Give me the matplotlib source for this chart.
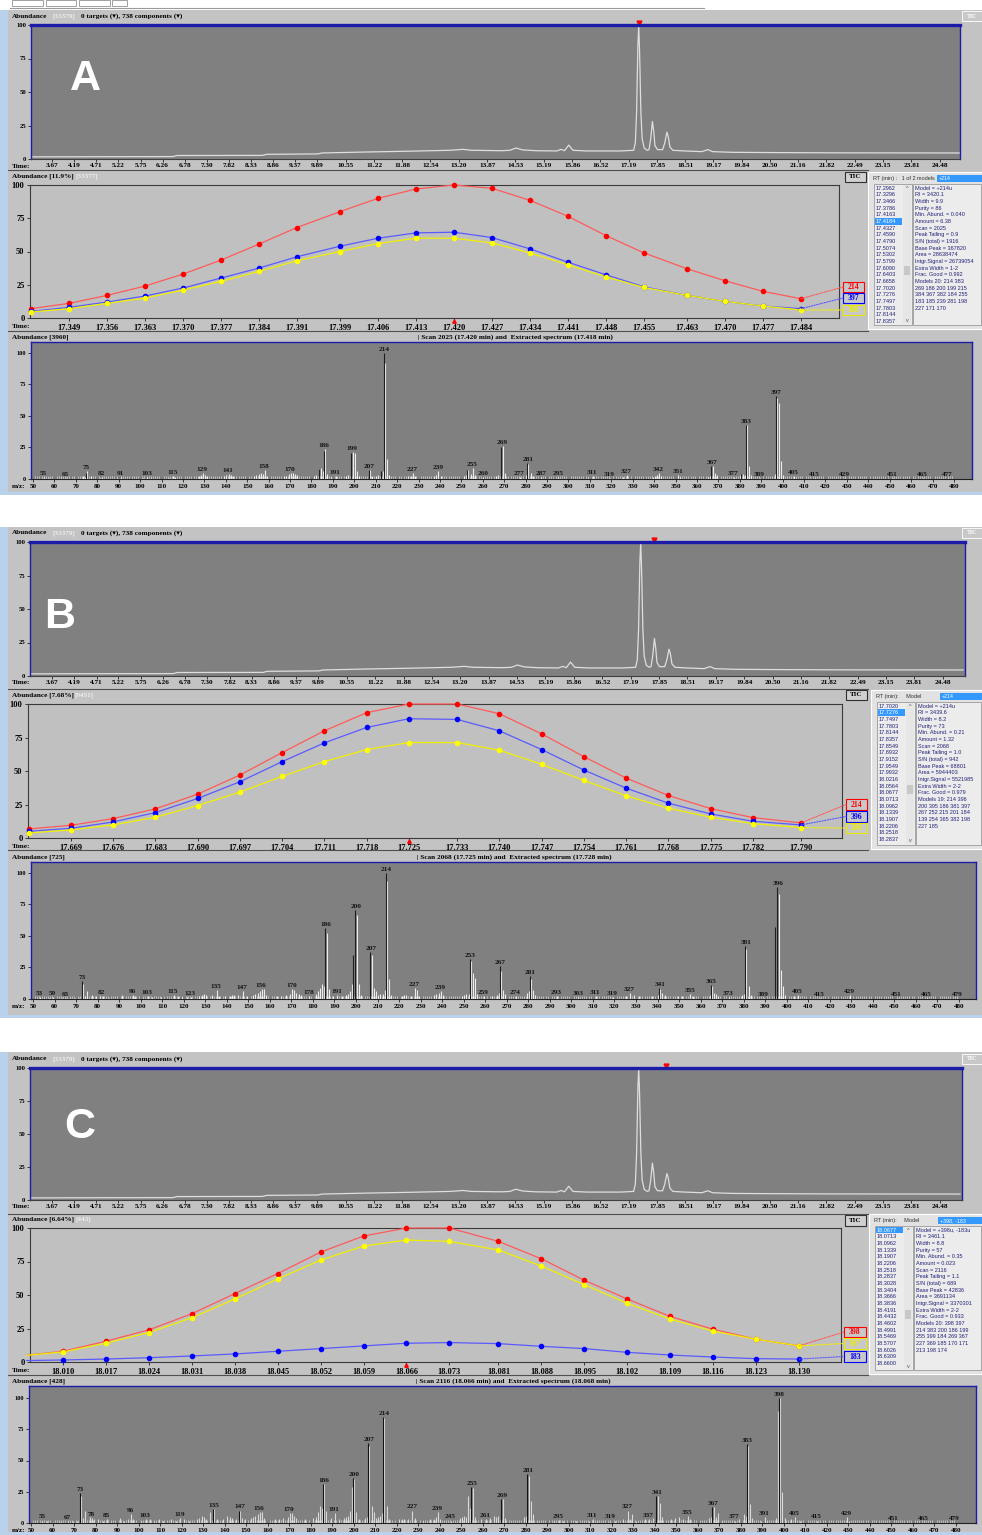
import numpy as np
import matplotlib.pyplot as plt
from matplotlib.patches import Rectangle, ConnectionPatch

W, H = 982, 1535
SERIF = ["Liberation Serif", "DejaVu Serif"]
SANS = ["Liberation Sans", "DejaVu Sans"]

# ---------------- data ----------------
# total ion chromatogram (same run in the three screenshots)
TIC_TICKS = [3.67, 4.19, 4.71, 5.22, 5.75, 6.26, 6.78, 7.30, 7.82, 8.33, 8.86, 9.37, 9.89,
             10.55, 11.22, 11.88, 12.54, 13.20, 13.87, 14.53, 15.19, 15.86, 16.52, 17.19,
             17.85, 18.51, 19.17, 19.84, 20.50, 21.16, 21.82, 22.49, 23.15, 23.81, 24.48]
TIC_TIME = [3.18, 4.5, 6.5, 6.6, 8.6, 8.7, 9.9, 10.0, 11.0, 12.0,
            13.0, 13.3, 13.5, 14.2, 14.4, 14.54, 14.7, 15.0, 15.5, 15.6,
            15.68, 15.78, 15.88, 16.2, 17.0, 17.30, 17.34, 17.37, 17.40, 17.42,
            17.44, 17.47, 17.50, 17.55, 17.62, 17.66, 17.70, 17.74, 17.77, 17.80,
            17.86, 17.98, 18.03, 18.08, 18.11, 18.15, 18.22, 18.5, 18.9, 19.04,
            19.15, 19.6, 20.5, 22.0, 24.95]
TIC_ABUND = [1.6, 1.7, 1.8, 2.6, 2.7, 3.5, 3.8, 4.5, 5.2, 5.8,
             6.5, 7.2, 6.5, 6.2, 6.5, 8.2, 6.8, 6.2, 6.0, 7.2,
             6.2, 10.4, 6.5, 6.0, 6.0, 6.5, 12, 35, 85, 100,
             80, 35, 15, 8, 6.5, 7, 15, 28, 21, 10,
             7, 7, 12, 20, 17, 9, 6.5, 6.0, 5.5, 7.0,
             5.5, 5.0, 4.8, 4.6, 4.5]

# panel A : extracted ion chromatograms
A_EIC_TIME = [17.342, 17.349, 17.356, 17.363, 17.370, 17.377, 17.384, 17.391, 17.399, 17.406,
              17.413, 17.420, 17.427, 17.434, 17.441, 17.448, 17.455, 17.463, 17.470, 17.477,
              17.484]
A_ION_NAMES = ["214", "397", "398"]
A_ION_214 = [7, 11, 17, 24, 33, 43.5, 55.5, 68, 80, 90, 97, 100, 97.5, 88.5, 76.5, 62, 49, 37, 28, 20, 14.5]
A_ION_397 = [5, 8, 12, 16.5, 22.5, 30, 37.5, 46, 54, 60, 64, 64.5, 60.5, 52, 42, 32.5, 23.5, 17, 12.5, 9, 7]
A_ION_398 = [4.5, 7, 11, 15, 21, 27.5, 35, 43, 50, 56, 60, 60, 56.5, 49, 40, 31, 23, 17, 12.5, 9, 6]

# panel B
B_EIC_TIME = [17.662, 17.669, 17.676, 17.683, 17.690, 17.697, 17.704, 17.711, 17.718, 17.725,
              17.733, 17.740, 17.747, 17.754, 17.761, 17.768, 17.775, 17.782, 17.790]
B_ION_NAMES = ["214", "396", "200"]
B_ION_214 = [6.75, 9.5, 14.5, 21.75, 32.75, 47, 63.75, 80, 93.5, 100, 100, 92.75, 77.75, 60.75, 44.75, 31.75, 22, 15.25, 11.25]
B_ION_396 = [5, 7.25, 12, 19, 29.5, 42, 57, 71, 82.5, 89, 88.5, 80, 66, 50.75, 37.25, 26, 18, 12.5, 9.75]
B_ION_200 = [3.75, 6, 9.75, 15.5, 24.25, 34.25, 46, 57, 66, 71.25, 71.25, 65.5, 55, 43, 31.5, 22.25, 15.5, 10.75, 7.75]

# panel C
C_EIC_TIME = [18.003, 18.010, 18.017, 18.024, 18.031, 18.038, 18.045, 18.052, 18.059, 18.066,
              18.073, 18.081, 18.088, 18.095, 18.102, 18.109, 18.116, 18.123, 18.130]
C_ION_NAMES = ["398", "397", "183"]
C_ION_398 = [4.5, 8, 15.5, 24, 36, 51, 66, 82, 94, 100, 100, 90, 77, 61, 47, 34, 24.4, 17, 12]
C_ION_397 = [4.5, 7.5, 14, 22, 33, 47, 62, 76, 86.5, 91, 90, 83.6, 71.6, 57.7, 43.8, 32, 23, 17, 12]
C_ION_183 = [1, 1.5, 2.2, 3.2, 4.5, 6, 8, 10, 12, 14, 14.5, 13.7, 11.7, 10, 7.2, 5.2, 3.7, 2.5, 2.2]

# mass spectra: extracted (light bars) and raw scan (dark bars)
A_MZ = [55, 57, 63, 65, 69, 73, 74, 75, 77, 81,
        82, 89, 91, 101, 103, 105, 113, 115, 116, 127,
        128, 129, 130, 131, 139, 140, 141, 142, 143, 153,
        154, 155, 156, 157, 158, 159, 167, 168, 169, 170,
        171, 172, 173, 181, 182, 183, 184, 185, 186, 187,
        189, 191, 196, 197, 198, 199, 200, 201, 202, 207,
        208, 210, 211, 212, 213, 214, 215, 216, 225, 226,
        227, 228, 237, 238, 239, 240, 251, 252, 253, 254,
        255, 256, 260, 266, 267, 268, 269, 270, 277, 280,
        281, 282, 283, 287, 295, 309, 311, 319, 325, 327,
        339, 340, 341, 342, 343, 351, 352, 365, 366, 367,
        368, 369, 377, 380, 381, 382, 383, 384, 385, 389,
        396, 397, 398, 399, 400, 405, 415, 429, 451, 465,
        477]
A_INT = [1.5, 1, 1, 1, 1, 2, 1.5, 6, 2, 1,
         1.5, 1, 1.5, 1, 1.5, 1, 1, 2, 1.5, 2,
         3, 4.5, 3, 2, 2, 3, 4, 3, 2, 2,
         3, 4, 4.5, 4, 7, 2.5, 2, 2.5, 4, 5,
         5, 4, 3, 2, 3, 8, 8.5, 6, 24, 4,
         1.5, 2, 2.5, 3, 6, 21.5, 21, 6, 2, 7,
         2, 2, 3, 3, 6, 92, 16, 3, 2, 2,
         5, 2, 2, 3, 6, 2, 2, 3, 7, 4,
         8.5, 3, 1.5, 2, 3, 4, 26.5, 5, 1.5, 3,
         12, 5, 2, 1.5, 1.5, 1, 2, 1, 1.5, 3.5,
         1.5, 2.5, 3, 4.5, 2, 3.5, 1.5, 1.5, 2, 10.5,
         5, 3, 1.5, 3, 4, 3, 42.5, 10, 3, 1,
         4, 64, 60, 14, 3, 2, 1, 1, 0.8, 0.8,
         0.8]
A_RAW_MZ = [75, 184, 186, 199, 207, 213, 214, 253, 269, 281, 367, 381, 383, 397]
A_RAW_INT = [5, 8, 22, 21, 7, 6, 100, 7, 25, 13, 10, 4, 43, 66]
A_LABELS = [55, 65, 75, 82, 91, 103, 115, 129, 141, 158, 170, 186, 191, 199, 207, 214, 227, 239,
            255, 260, 269, 277, 281, 287, 295, 311, 319, 327, 342, 351, 367, 377, 383, 389, 397,
            405, 415, 429, 451, 465, 477]

B_MZ = [53, 55, 57, 59, 63, 65, 67, 69, 71, 73,
        74, 75, 77, 79, 81, 82, 85, 91, 96, 97,
        101, 103, 105, 109, 115, 117, 119, 121, 123, 127,
        128, 129, 130, 133, 135, 136, 139, 141, 142, 143,
        145, 147, 149, 152, 153, 154, 155, 156, 157, 158,
        163, 165, 167, 169, 170, 171, 172, 173, 174, 178,
        181, 182, 183, 184, 185, 186, 187, 189, 191, 193,
        195, 196, 197, 198, 199, 200, 201, 202, 207, 208,
        209, 210, 211, 212, 213, 214, 215, 216, 221, 222,
        223, 225, 227, 228, 229, 236, 237, 238, 239, 240,
        249, 250, 251, 252, 253, 254, 255, 256, 259, 263,
        265, 266, 267, 268, 269, 274, 279, 280, 281, 282,
        283, 293, 303, 311, 319, 325, 327, 329, 331, 337,
        340, 341, 342, 343, 349, 351, 355, 356, 364, 365,
        366, 367, 368, 373, 379, 380, 381, 382, 383, 389,
        395, 396, 397, 398, 399, 403, 405, 415, 429, 451,
        465, 479]
B_INT = [1.5, 1, 1, 1.5, 1, 1, 1, 1, 1, 12,
         2, 6, 3, 2, 2, 2, 1, 3, 3, 2,
         1, 2, 1.5, 1.5, 3, 2, 1.5, 1.5, 1.5, 2,
         3, 4, 3, 3, 7, 2, 2, 2, 3, 3,
         3, 6, 2, 3, 4, 5, 6, 8, 8, 3,
         2, 2, 3, 4, 8, 7, 5, 4, 3, 2,
         4, 6, 9, 12, 10, 52, 8, 2, 3, 2,
         3, 4, 6, 12, 33, 67, 12, 3, 35, 9,
         6, 3, 4, 4, 7, 94, 16, 3, 2, 3,
         3, 2, 9, 7, 2, 3, 4, 5, 6, 3,
         2, 3, 4, 4, 30, 21, 17, 4, 2, 2,
         3, 5, 22, 7, 4, 2, 5, 6, 16, 7,
         3, 2, 1.5, 2, 1.5, 2, 5, 3, 2, 2,
         3, 8, 5, 3, 2, 2, 4, 2, 3, 10,
         5, 4, 2, 1.5, 3, 4, 40, 10, 3, 1,
         56, 83, 23, 10, 3, 2, 3, 1, 3, 0.8,
         0.8, 1]
B_RAW_MZ = [73, 186, 199, 200, 207, 214, 253, 267, 281, 341, 365, 381, 395, 396]
B_RAW_INT = [14, 56, 35, 71, 37, 100, 32, 26.5, 18, 9, 11, 42, 57.5, 88.6]
B_LABELS = [53, 59, 65, 73, 82, 96, 103, 115, 123, 135, 147, 156, 170, 178, 186, 191, 200, 207,
            214, 227, 239, 253, 259, 267, 274, 281, 293, 303, 311, 319, 327, 341, 355, 365, 373,
            381, 389, 396, 405, 415, 429, 451, 465, 479]

C_MZ = [55, 57, 60, 63, 67, 69, 71, 73, 74, 75,
        77, 78, 79, 81, 83, 85, 87, 91, 93, 95,
        96, 97, 101, 103, 105, 107, 109, 111, 115, 117,
        119, 121, 123, 127, 128, 129, 130, 131, 133, 135,
        136, 139, 141, 142, 143, 145, 147, 148, 149, 152,
        153, 154, 155, 156, 157, 158, 163, 165, 167, 169,
        170, 171, 172, 173, 177, 181, 182, 183, 184, 185,
        186, 187, 189, 191, 193, 195, 196, 197, 198, 199,
        200, 201, 202, 205, 206, 207, 208, 209, 210, 211,
        212, 213, 214, 215, 216, 221, 222, 223, 225, 227,
        228, 232, 235, 237, 238, 239, 240, 245, 249, 250,
        251, 252, 253, 254, 255, 256, 259, 261, 263, 265,
        266, 267, 268, 269, 270, 279, 280, 281, 282, 283,
        285, 293, 295, 297, 303, 309, 311, 313, 319, 321,
        325, 327, 328, 329, 331, 335, 337, 339, 341, 342,
        343, 347, 349, 351, 353, 355, 356, 365, 366, 367,
        368, 369, 371, 377, 379, 381, 382, 383, 384, 385,
        389, 391, 392, 396, 397, 398, 399, 400, 403, 405,
        407, 415, 429, 430, 451, 465, 479]
C_INT = [2, 1.5, 1, 1, 1.5, 2, 2, 22, 4, 10,
         5, 4, 3, 3, 2, 3, 1, 4, 2, 3,
         7, 3, 2, 3, 3, 2, 3, 2, 3, 2,
         4, 3, 2, 3, 4, 6, 5, 3, 9, 11,
         3, 3, 6, 5, 4, 3, 10, 4, 3, 4,
         5, 6, 7, 9, 9, 4, 3, 3, 4, 5,
         8, 8, 6, 4, 3, 4, 5, 9, 14, 12,
         31, 10, 4, 8, 3, 4, 5, 6, 10, 29,
         35, 9, 3, 4, 5, 62, 14, 9, 4, 5,
         6, 8, 84, 14, 3, 3, 3, 3, 3, 10,
         4, 2, 3, 3, 5, 9, 3, 2, 4, 5,
         6, 5, 22, 12, 28, 5, 3, 3, 4, 6,
         5, 6, 4, 19, 4, 5, 6, 38, 18, 7,
         2, 2, 2.5, 2, 2, 2, 3, 2, 2, 2,
         3, 10, 3, 7, 2, 3, 3, 4, 22, 16,
         5, 3, 4, 5, 3, 6, 3, 4, 5, 12.5,
         5, 8, 2, 2, 3, 7, 6, 62, 15, 4,
         2, 5, 2, 4, 90, 100, 25, 4, 3, 5,
         2, 2, 5, 2, 1, 1, 1]
C_RAW_MZ = [73, 135, 147, 186, 200, 207, 214, 255, 269, 281, 341, 367, 383, 398]
C_RAW_INT = [24, 11, 10, 31.5, 36, 64, 85, 29, 19, 39, 22, 12.5, 63, 100]
C_LABELS = [55, 67, 73, 78, 85, 96, 103, 119, 135, 147, 156, 170, 186, 191, 200, 207, 214, 227,
            239, 245, 255, 261, 269, 281, 295, 311, 319, 327, 337, 341, 355, 367, 377, 383, 391,
            398, 405, 415, 429, 451, 465, 479]

# side panels (model list / model info)
A_RT = ["17.2962", "17.3296", "17.3466", "17.3786", "17.4163", "17.4184", "17.4327", "17.4590",
        "17.4790", "17.5074", "17.5302", "17.5799", "17.6090", "17.6403", "17.6658", "17.7020",
        "17.7276", "17.7497", "17.7803", "17.8144", "17.8357"]
A_INFO = ["Model = +214u", "RI = 3420.1", "Width = 9.9", "Purity = 86", "Min. Abund. = 0.040",
          "Amount = 6.38", "Scan = 2025", "Peak Tailing = 0.9", "S/N (total) = 1916",
          "Base Peak = 367820", "Area = 28638474", "Intgr.Signal = 26739054", "Extra Width = 1-2",
          "Frac. Good = 0.992", "Models 20: 214 383", "269 186 200 199 215", "384 367 382 184 255",
          "183 185 239 281 198", "227 171 170"]
B_RT = ["17.7020", "17.7276", "17.7497", "17.7803", "17.8144", "17.8357", "17.8549", "17.8932",
        "17.9152", "17.9549", "17.9932", "18.0216", "18.0564", "18.0677", "18.0713", "18.0962",
        "18.1339", "18.1907", "18.2206", "18.2518", "18.2837"]
B_INFO = ["Model = +214u", "RI = 3439.6", "Width = 8.2", "Purity = 73", "Min. Abund. = 0.21",
          "Amount = 1.32", "Scan = 2068", "Peak Tailing = 1.0", "S/N (total) = 942",
          "Base Peak = 68801", "Area = 5944403", "Intgr.Signal = 5521985", "Extra Width = 2-2",
          "Frac. Good = 0.979", "Models 19: 214 396", "200 395 186 381 397", "267 252 215 201 184",
          "139 254 365 382 198", "227 185"]
C_RT = ["18.0677", "18.0713", "18.0962", "18.1339", "18.1907", "18.2206", "18.2518", "18.2837",
        "18.3028", "18.3404", "18.3666", "18.3836", "18.4191", "18.4432", "18.4602", "18.4991",
        "18.5469", "18.5707", "18.6026", "18.6309", "18.6600"]
C_INFO = ["Model = +398u, -183u", "RI = 3461.1", "Width = 8.8", "Purity = 57", "Min. Abund. = 0.35",
          "Amount = 0.023", "Scan = 2116", "Peak Tailing = 1.1", "S/N (total) = 689",
          "Base Peak = 42836", "Area = 3691134", "Intgr.Signal = 3370301", "Extra Width = 2-2",
          "Frac. Good = 0.933", "Models 20: 398 397", "214 383 200 186 199", "255 399 184 269 367",
          "227 369 185 170 171", "213 198 174"]

# ---------------- figure ----------------
fig = plt.figure(figsize=(W / 100, H / 100), dpi=100)
bg = fig.add_axes([0, 0, 1, 1], zorder=0)
fg = fig.add_axes([0, 0, 1, 1], zorder=20)
for a in (bg, fg):
    a.set_xlim(0, W)
    a.set_ylim(H, 0)
    a.axis("off")
fg.patch.set_visible(False)

WIN = "#c3c3c3"
NAVY = "#1c1ca8"
TXT_BLUE = "#22227a"


def px_axes(x0, y0, x1, y1, z=5):
    return fig.add_axes([x0 / W, 1 - y1 / H, (x1 - x0) / W, (y1 - y0) / H], zorder=z)


def rect(ax, x0, y0, x1, y1, **kw):
    ax.add_patch(Rectangle((x0, y0), x1 - x0, y1 - y0, **kw))


def txt(x, y, s, size=5.2, color="black", weight="bold", family=SERIF, ha="left", va="center"):
    fg.text(x, y, s, fontsize=size, color=color, fontweight=weight, family=family, ha=ha, va=va)


def style_ticks(ax, size, xsize=None):
    for lab in ax.get_yticklabels():
        lab.set_fontsize(size)
        lab.set_fontweight("bold")
        lab.set_family(SERIF)
    for lab in ax.get_xticklabels():
        lab.set_fontsize(xsize or size)
        lab.set_fontweight("bold")
        lab.set_family(SERIF)


def side_panel(x0, y0, x1, y1, head, field, rts, sel, info):
    rect(bg, x0, y0, x1, y1, fc="#e2e2e2", ec="white", lw=0.8)
    txt(x0 + 5, y0 + 6.5, head, 4.0, "#303030", "normal", SANS)
    rect(bg, x0 + 69, y0 + 3, x1, y0 + 10, fc="#3399ff", ec="none")
    txt(x0 + 71, y0 + 6.5, field, 3.8, "white", "normal", SANS)
    lx0, ly0, lx1, ly1 = x0 + 6, y0 + 12, x0 + 44, y1 - 4
    rect(bg, lx0, ly0, lx1, ly1, fc="#ececec", ec="#9a9a9a", lw=0.6)
    rect(bg, lx1 - 9, ly0 + 1, lx1 - 1, ly1 - 1, fc="#e6e6e6", ec="none")
    rect(bg, lx1 - 8, ly0 + (ly1 - ly0) * 0.58, lx1 - 2, ly0 + (ly1 - ly0) * 0.58 + 9,
         fc="#c8c8c8", ec="none")
    txt(lx1 - 5, ly0 + 5, "^", 4, "#505050", "normal", SANS, ha="center")
    txt(lx1 - 5, ly1 - 4, "v", 4, "#505050", "normal", SANS, ha="center")
    for i, r in enumerate(rts):
        y = y0 + 16 + i * 6.67
        col = TXT_BLUE
        if i == sel:
            rect(bg, lx0 + 1, y - 3.3, lx1 - 10, y + 3.3, fc="#3399ff", ec="none")
            col = "white"
        txt(lx0 + 2, y, r, 4.0, col, "normal", SANS)
    ix0 = x0 + 45
    rect(bg, ix0, ly0, x1 - 1, ly1, fc="#ececec", ec="#9a9a9a", lw=0.6)
    for i, s in enumerate(info):
        txt(ix0 + 2, y0 + 16 + i * 6.67, s, 4.0, TXT_BLUE, "normal", SANS)


def panel(L, eic_time, ions, names, ion_cols, scan_t,
          mz, inten, raw_mz, raw_int, labels, side):
    # window
    rect(bg, 0, L["top"], W, L["bottom"], fc="#b9d1ea", ec="none")
    rect(bg, 8, L["top"], W, L["bottom"] - 3, fc=WIN, ec="none")
    for yy in L["seps"]:
        bg.plot([8, 868], [yy, yy], color="#505050", lw=0.8)
    rect(bg, 962, L["tic"][1] - 14, W, L["tic"][1] - 4, fc="#c8c8c8", ec="white", lw=0.6)
    txt(972, L["tic"][1] - 9, "TIC", 4.2, "white", ha="center")

    # ---- TIC ----
    x0, y0, x1, y1 = L["tic"]
    ax = px_axes(x0, y0, x1, y1)
    ax.set_facecolor("#808080")
    ax.plot(TIC_TIME, TIC_ABUND, color="#dedede", lw=0.9)
    p0, p1 = L["tic_px"]
    sc = (p1 - p0) / (TIC_TICKS[-1] - TIC_TICKS[0])
    ax.set_xlim(TIC_TICKS[0] - (p0 - x0) / sc, TIC_TICKS[-1] + (x1 - p1) / sc)
    ax.set_ylim(0, 100)
    ax.set_xticks(TIC_TICKS)
    ax.set_xticklabels([f"{t:.2f}" for t in TIC_TICKS])
    ax.set_yticks([0, 25, 50, 75, 100])
    ax.tick_params(length=2, width=0.6, pad=1.2, color="#202020")
    style_ticks(ax, 4.8, 5.2)
    for s in ("left", "right"):
        ax.spines[s].set_color(NAVY)
        ax.spines[s].set_linewidth(1.0)
    ax.spines["top"].set_color(NAVY)
    ax.spines["top"].set_linewidth(2.4)
    ax.spines["bottom"].set_color("#404040")
    ax.plot(scan_t, 101.5, marker="v", color="red", ms=3.5, clip_on=False)
    txt(12, y1 + 7, "Time:", 5.2)
    txt(L["letter"][0], L["letter"][1], L["name"], 31, "white", "bold", SANS, ha="center")
    txt(12, y0 - 9, "Abundance", 5.2)
    txt(53, y0 - 9, "[33379]", 5.2, "#ececec")
    txt(81, y0 - 9, "0 targets (\u25be), 738 components (\u25be)", 5.2)

    # ---- EIC ----
    x0, y0, x1, y1 = L["eic"]
    ax = px_axes(x0, y0, x1, y1)
    ax.set_facecolor("#c0c0c0")
    line_cols = {"red": "#ff5a5a", "blue": "#5a5aff", "yellow": "#f0f000"}
    dot_cols = {"red": "#ff0000", "blue": "#0000ff", "yellow": "#ffff00"}
    # clip at the left/right frame only, so points at 100 are not cut in half
    for vals, c in zip(ions, ion_cols):
        for art in (ax.plot(eic_time, vals, color=line_cols[c], lw=0.9, zorder=3)[0],
                    ax.plot(eic_time, vals, ls="none", marker="o", ms=3.0, mfc=dot_cols[c],
                            mec=dot_cols[c], zorder=4)[0]):
            clip = Rectangle((-0.005, -0.1), 1.01, 1.2, transform=ax.transAxes)
            art.set_clip_path(clip)
    ticks = eic_time[1:]
    p0, p1 = L["eic_px"]
    sc = (p1 - p0) / (ticks[-1] - ticks[0])
    ax.set_xlim(ticks[0] - (p0 - x0) / sc, ticks[-1] + (x1 - p1) / sc)
    ax.set_ylim(0, 100)
    ax.set_xticks(ticks)
    ax.set_xticklabels([f"{t:.3f}" for t in ticks])
    ax.set_yticks([0, 25, 50, 75, 100])
    ax.tick_params(length=2.5, width=0.6, pad=1.5, color="#202020")
    style_ticks(ax, 6.0)
    for s in ax.spines.values():
        s.set_color("#3a3a3a")
        s.set_linewidth(0.8)
    ax.plot(scan_t, -2.5, marker="^", color="red", ms=2.5, clip_on=False)
    txt(12, y1 + 8, "Time:", 5.2)
    txt(12, y0 - 9, "Abundance " + L["eic_pct"], 5.2)
    txt(L["eic_hx"], y0 - 9, L["eic_tag"], 5.2, "#ececec")
    bx0, by0, bx1, by1 = L["tic_btn"]
    rect(bg, bx0, by0, bx1, by1, fc="#d0d0d0", ec="#303030", lw=0.8)
    txt((bx0 + bx1) / 2, (by0 + by1) / 2, "TIC", 5.0, ha="center")
    # ion label boxes with dotted leaders
    bxa, bxb = L["ion_bx"]
    for k, (vals, c, nm) in enumerate(zip(ions, ion_cols, names)):
        ya, yb = L["ion_by"][k]
        rect(fg, bxa, ya, bxb, yb, fc="#c8c8c8", ec=dot_cols[c] if c != "yellow" else "#e8e800",
             lw=0.8)
        tc = {"red": "#ff0000", "blue": "#0000ff", "yellow": "#eeee00"}[c]
        txt((bxa + bxb) / 2, (ya + yb) / 2 + 0.3, nm, 5.6, tc, ha="center")
        con = ConnectionPatch(xyA=(eic_time[-1], vals[-1]), coordsA=ax.transData,
                              xyB=(bxa, (ya + yb) / 2), coordsB=fg.transData,
                              ls=(0, (1.2, 1.2)), color=line_cols[c], lw=0.8, zorder=25)
        fig.add_artist(con)
    side_panel(*side)

    # ---- spectrum ----
    x0, y0, x1, y1 = L["spec"]
    ax = px_axes(x0, y0, x1, y1)
    ax.set_facecolor("#808080")
    mz = np.asarray(mz, float)
    raw_mz = np.asarray(raw_mz, float)
    ax.vlines(mz + 0.3, 0, inten, color=L["light"], lw=0.8, zorder=3)
    ax.vlines(raw_mz - 0.3, 0, raw_int, color=L["dark"], lw=0.8, zorder=3)
    top = {}
    for m, v in zip(mz, inten):
        top[int(m)] = max(top.get(int(m), 0), v)
    for m, v in zip(raw_mz, raw_int):
        top[int(m)] = max(top.get(int(m), 0), v)
    for m in labels:
        ax.text(m, top.get(m, 0.5) + 0.8, str(m), ha="center", va="bottom", fontsize=5.2,
                fontweight="bold", family=SERIF, color="#141414", zorder=5)
    p0, p1 = L["spec_px"]
    sc = (p1 - p0) / 430.0
    ax.set_xlim(50 - (p0 - x0) / sc, 480 + (x1 - p1) / sc)
    ax.set_ylim(0, L["spec_top"])
    ax.set_xticks(range(50, 481, 10))
    ax.set_xticks(range(50, 481, 1), minor=True)
    ax.set_yticks([0, 25, 50, 75, 100])
    ax.tick_params(length=2, width=0.6, pad=1.8, color="#202020")
    ax.tick_params(axis="x", which="minor", direction="in", length=2.2, width=0.5,
                   color="#d8d8d8")
    style_ticks(ax, 4.6, 5.0)
    for s in ("left", "right", "top"):
        ax.spines[s].set_color(NAVY)
        ax.spines[s].set_linewidth(1.0)
    ax.spines["bottom"].set_color("#202020")
    txt(12, y1 + 8, "m/z:", 5.0)
    txt(12, y0 - 5, "Abundance " + L["spec_tag"], 5.2)
    txt(L["scan_x"], y0 - 5, L["scan_txt"], 5.2)


LAY_A = dict(name="A", top=10, bottom=495, letter=(85, 79), seps=[170, 331],
             tic=(31, 25, 960, 159), tic_px=(52, 940),
             eic=(30, 185, 839, 318), eic_px=(69, 801), eic_pct="[11.9%]", eic_hx=76,
             eic_tag="[33377]", tic_btn=(845, 172, 866, 182),
             ion_bx=(843, 864), ion_by=[(282, 292), (293, 303), (305, 315)],
             spec=(31, 342, 972, 479), spec_px=(33, 954), spec_top=108.7,
             spec_tag="[3960]", scan_x=418,
             scan_txt="| Scan 2025 (17.420 min) and  Extracted spectrum (17.418 min)",
             light="#ececec", dark="#1e1e1e")
LAY_B = dict(name="B", top=527, bottom=1018, letter=(60, 617), seps=[689, 850],
             tic=(30, 542, 965, 676), tic_px=(52, 943),
             eic=(28, 704, 842, 838), eic_px=(71, 801), eic_pct="[7.68%]", eic_hx=75,
             eic_tag="[9451]", tic_btn=(846, 690, 867, 700),
             ion_bx=(846, 867), ion_by=[(799, 810), (811, 822), (823, 833)],
             spec=(31, 862, 976, 999), spec_px=(33, 959), spec_top=108.7,
             spec_tag="[725]", scan_x=417,
             scan_txt="| Scan 2068 (17.725 min) and  Extracted spectrum (17.728 min)",
             light="#ececec", dark="#1e1e1e")
LAY_C = dict(name="C", top=1052, bottom=1535, letter=(80, 1127), seps=[1214, 1375],
             tic=(30, 1068, 962, 1200), tic_px=(52, 940),
             eic=(30, 1228, 841, 1362), eic_px=(63, 799), eic_pct="[6.64%]", eic_hx=76,
             eic_tag="[443]", tic_btn=(845, 1215, 866, 1226),
             ion_bx=(844, 866), ion_by=[(1327, 1337), (1338, 1349), (1351, 1362)],
             spec=(29, 1386, 976, 1523), spec_px=(31, 956), spec_top=109.6,
             spec_tag="[428]", scan_x=416,
             scan_txt="| Scan 2116 (18.066 min) and  Extracted spectrum (18.068 min)",
             light="#d8d8d8", dark="#141414")

# toolbar strip above panel A
for bx0, bx1 in [(12, 43), (46, 76), (79, 110), (112, 127)]:
    rect(bg, bx0, 0, bx1, 6, fc="white", ec="#909090", lw=0.6)
bg.plot([10, 704], [7.5, 7.5], color="#9a9a9a", lw=0.8)

panel(LAY_A, A_EIC_TIME, [A_ION_214, A_ION_397, A_ION_398], A_ION_NAMES,
      ["red", "blue", "yellow"], 17.420,
      A_MZ, A_INT, A_RAW_MZ, A_RAW_INT, A_LABELS,
      (868, 172, 982, 329, "RT (min) :   1 of 2 models", "+214", A_RT, 5, A_INFO))
panel(LAY_B, B_EIC_TIME, [B_ION_214, B_ION_396, B_ION_200], B_ION_NAMES,
      ["red", "blue", "yellow"], 17.725,
      B_MZ, B_INT, B_RAW_MZ, B_RAW_INT, B_LABELS,
      (871, 690, 982, 849, "RT (min):     Model", "+214", B_RT, 1, B_INFO))
panel(LAY_C, C_EIC_TIME, [C_ION_398, C_ION_397, C_ION_183], C_ION_NAMES,
      ["red", "yellow", "blue"], 18.066,
      C_MZ, C_INT, C_RAW_MZ, C_RAW_INT, C_LABELS,
      (869, 1214, 982, 1374, "RT (min):     Model", "+398, -183", C_RT, 0, C_INFO))

fig.savefig("out.png", dpi=100, facecolor="white")
